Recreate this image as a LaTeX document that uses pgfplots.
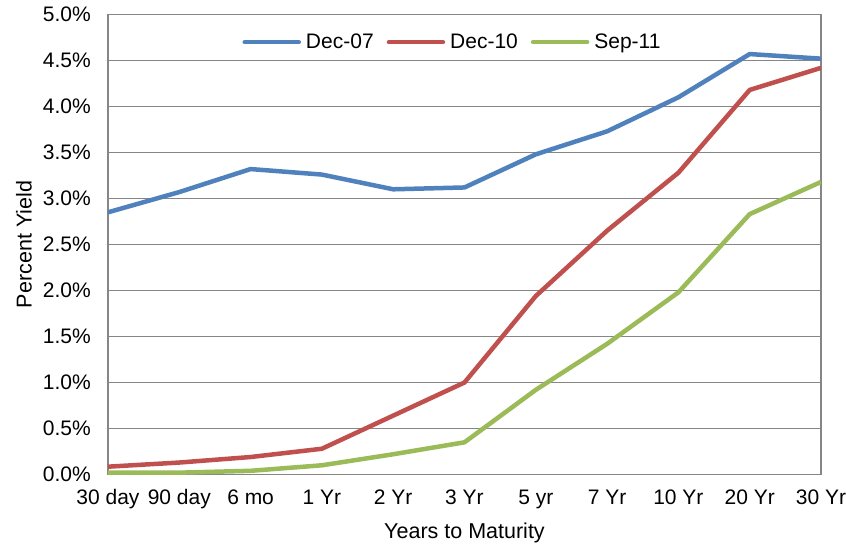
\documentclass[border=0pt]{standalone}
\usepackage{fontspec}
\setmainfont{Liberation Sans}
\usepackage{pgfplots}
\pgfplotsset{compat=1.18}

\definecolor{serA}{HTML}{4F81BD}
\definecolor{serB}{HTML}{C0504D}
\definecolor{serC}{HTML}{9BBB59}
\definecolor{gridgray}{RGB}{134,134,134}

\newcommand{\chartfont}{\fontsize{21bp}{25bp}\selectfont}
\newcommand{\titlefont}{\fontsize{21.5bp}{25bp}\selectfont}

\begin{document}
\begin{tikzpicture}
\useasboundingbox (-108bp,-72.5bp) rectangle (738bp,474.5bp);
\begin{axis}[
  scale only axis,
  width=713bp, height=460bp,
  xmin=0, xmax=10, ymin=0, ymax=5,
  xtick={0,1,2,3,4,5,6,7,8,9,10},
  xticklabels={30 day,90 day,6 mo,1 Yr,2 Yr,3 Yr,5 yr,7 Yr,10 Yr,20 Yr,30 Yr},
  ytick={0,0.5,1,1.5,2,2.5,3,3.5,4,4.5,5},
  yticklabels={0.0\%,0.5\%,1.0\%,1.5\%,2.0\%,2.5\%,3.0\%,3.5\%,4.0\%,4.5\%,5.0\%},
  major tick length=0pt,
  ymajorgrids,
  grid style={gridgray, line width=1.3bp},
  axis line style={gridgray, line width=1.5bp},
  tick label style={font=\chartfont, text=black},
  yticklabel style={inner sep=0pt, anchor=east, xshift=-17bp},
  xticklabel style={inner sep=0pt, anchor=north, yshift=-15bp},
  xlabel={Years to Maturity},
  ylabel={Percent Yield},
  label style={font=\titlefont, inner sep=0pt},
  xlabel style={at={([yshift=-48bp]axis description cs:0.5,0)}, anchor=north},
  ylabel style={at={([xshift=-76bp]axis description cs:0,0.5)}, anchor=south, rotate=0},
  legend columns=3,
  legend style={
    at={(0.4818,0.940)}, anchor=center, draw=none, fill=none,
    font=\chartfont,
    nodes={inner sep=0pt},
    /tikz/every odd column/.append style={column sep=5bp},
    /tikz/every even column/.append style={column sep=13bp},
  },
  legend image code/.code={\draw[#1, line cap=round] (0bp,0bp) -- (54bp,0bp);},
  every axis plot/.append style={line width=4.5bp, line join=round},
]
\addplot[serA] coordinates {
  (0,2.85) (1,3.07) (2,3.32) (3,3.26) (4,3.10) (5,3.12)
  (6,3.48) (7,3.73) (8,4.10) (9,4.57) (10,4.52)};
\addlegendentry{Dec-07}
\addplot[serB] coordinates {
  (0,0.085) (1,0.13) (2,0.19) (3,0.28) (4,0.64) (5,1.00)
  (6,1.94) (7,2.65) (8,3.28) (9,4.18) (10,4.42)};
\addlegendentry{Dec-10}
\addplot[serC] coordinates {
  (0,0.02) (1,0.02) (2,0.04) (3,0.10) (4,0.22) (5,0.35)
  (6,0.92) (7,1.42) (8,1.98) (9,2.83) (10,3.18)};
\addlegendentry{Sep-11}
\end{axis}
\end{tikzpicture}
\end{document}
